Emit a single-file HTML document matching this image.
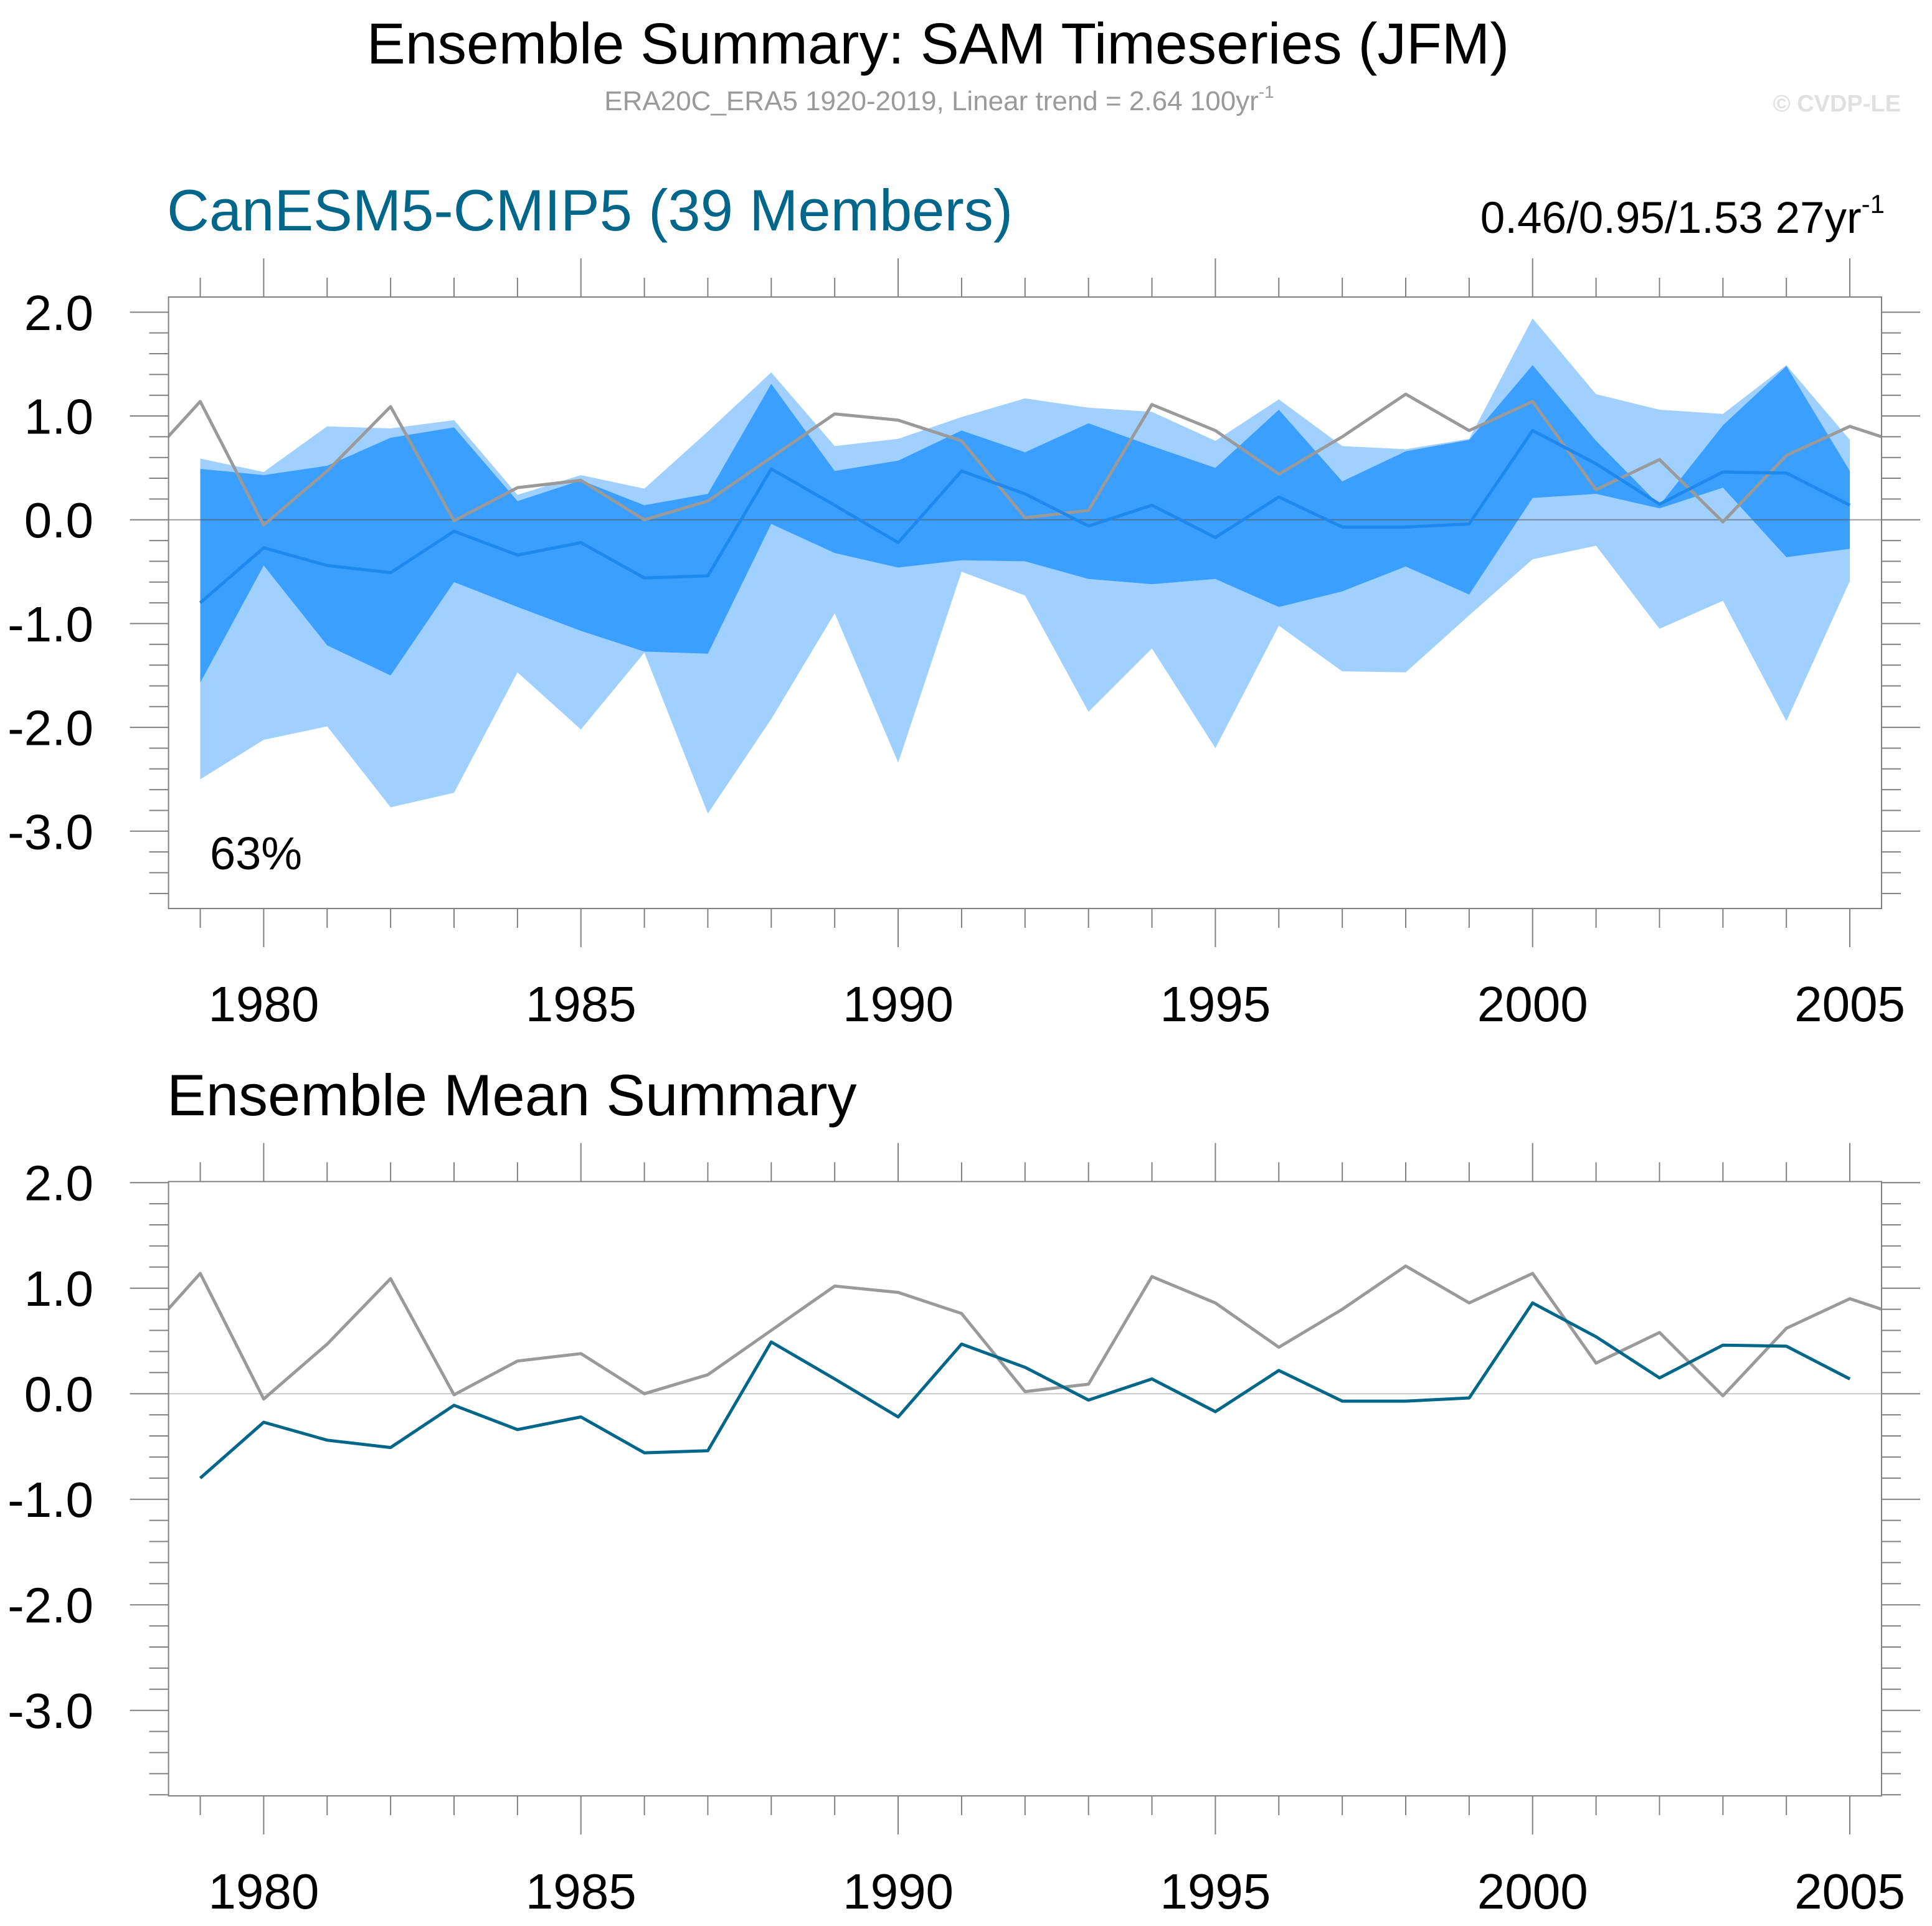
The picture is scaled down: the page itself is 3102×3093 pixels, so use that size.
<!DOCTYPE html>
<html><head><meta charset="utf-8"><title>Ensemble Summary: SAM Timeseries (JFM)</title>
<style>html,body{margin:0;padding:0;background:#fff;}svg{display:block;font-family:"Liberation Sans",Arial,sans-serif;}</style>
</head><body>
<svg id="chart" xmlns="http://www.w3.org/2000/svg" width="3102" height="3093" viewBox="0 0 3102 3093">
<text x="1506" y="102" font-size="93" text-anchor="middle" fill="#000">Ensemble Summary: SAM Timeseries (JFM)</text>
<text x="1508" y="177" font-size="44" text-anchor="middle" fill="#9a9a9a">ERA20C_ERA5 1920-2019, Linear trend = 2.64 100yr<tspan font-size="28" dy="-20">-1</tspan></text>
<text x="3052" y="179" font-size="38" font-weight="bold" text-anchor="end" fill="#e0e0e0">© CVDP-LE</text>
<text x="268" y="370" font-size="94" fill="#00668a">CanESM5-CMIP5 (39 Members)</text>
<text x="3026" y="374" font-size="71" text-anchor="end" fill="#000">0.46/0.95/1.53 27yr<tspan font-size="42" dy="-32">-1</tspan></text>
<text x="268" y="1791" font-size="94" fill="#000">Ensemble Mean Summary</text>
<text x="337" y="1396" font-size="74" fill="#000">63%</text>
<defs>
<clipPath id="clipTop"><rect x="270.6" y="477" width="2750.4" height="982"/></clipPath>
<clipPath id="clipBot"><rect x="270.6" y="1897.5" width="2750.4" height="986.5"/></clipPath>
</defs>
<g id="top"></g>
<g id="bot"></g>
</svg>
<script>
const years = [1979,1980,1981,1982,1983,1984,1985,1986,1987,1988,1989,1990,1991,1992,1993,1994,1995,1996,1997,1998,1999,2000,2001,2002,2003,2004,2005];
const ensMean = [-0.80,-0.27,-0.44,-0.51,-0.11,-0.34,-0.22,-0.56,-0.54,0.49,0.14,-0.22,0.47,0.25,-0.06,0.14,-0.17,0.22,-0.07,-0.07,-0.04,0.86,0.54,0.15,0.46,0.45,0.14];
const lightUpper = [0.59,0.46,0.90,0.88,0.96,0.24,0.43,0.30,0.85,1.42,0.71,0.78,0.99,1.17,1.08,1.04,0.76,1.16,0.71,0.68,0.78,1.94,1.21,1.06,1.02,1.49,0.77];
const lightLower = [-2.50,-2.12,-1.99,-2.77,-2.63,-1.47,-2.02,-1.28,-2.83,-1.92,-0.90,-2.34,-0.50,-0.73,-1.85,-1.24,-2.20,-1.02,-1.46,-1.47,-0.92,-0.38,-0.25,-1.05,-0.78,-1.94,-0.59];
const darkUpper = [0.49,0.43,0.52,0.79,0.89,0.18,0.38,0.14,0.25,1.31,0.47,0.57,0.86,0.65,0.93,0.71,0.50,1.06,0.37,0.66,0.77,1.49,0.76,0.14,0.91,1.48,0.47];
const darkLower = [-1.57,-0.44,-1.21,-1.50,-0.60,-0.84,-1.07,-1.27,-1.29,-0.04,-0.32,-0.46,-0.39,-0.40,-0.57,-0.62,-0.57,-0.84,-0.69,-0.45,-0.72,0.21,0.25,0.11,0.31,-0.36,-0.28];
const obsYears = [1978,1979,1980,1981,1982,1983,1984,1985,1986,1987,1988,1989,1990,1991,1992,1993,1994,1995,1996,1997,1998,1999,2000,2001,2002,2003,2004,2005,2006];
const obs = [0.47,1.14,-0.05,0.47,1.09,-0.01,0.31,0.38,0.00,0.18,0.60,1.02,0.96,0.76,0.02,0.09,1.11,0.86,0.44,0.80,1.21,0.86,1.14,0.29,0.58,-0.02,0.62,0.90,0.70];
const xTickLabels = ['1980','1985','1990','1995','2000','2005'];
const yTickLabels = ['2.0','1.0','0.0','-1.0','-2.0','-3.0'];

const NS='http://www.w3.org/2000/svg';
const X0=270.6, X1=3021, XMIN=1978.5, XMAX=2005.5;
function xs(v){return X0+(v-XMIN)/(XMAX-XMIN)*(X1-X0);}
function mkY(top,bot,vmax,vmin){return v=>top+(vmax-v)/(vmax-vmin)*(bot-top);}
const panels=[
 {g:document.getElementById('top'),top:477,bot:1459,vmax:2.146,vmin:-3.745,clip:'clipTop',name:'top'},
 {g:document.getElementById('bot'),top:1897.5,bot:2884,vmax:2.01,vmin:-3.81,clip:'clipBot',name:'bottom'}
];
function el(tag,attrs,parent){const e=document.createElementNS(NS,tag);for(const k in attrs)e.setAttribute(k,attrs[k]);parent.appendChild(e);return e;}
function pts(xv,yv,ys){return xv.map((x,i)=>xs(x).toFixed(1)+','+ys(yv[i]).toFixed(1)).join(' ');}
function band(up,lo,ys){const a=years.map((x,i)=>xs(x).toFixed(1)+','+ys(up[i]).toFixed(1));const b=years.map((x,i)=>xs(x).toFixed(1)+','+ys(lo[i]).toFixed(1)).reverse();return a.concat(b).join(' ');}

panels.forEach((p,pi)=>{
 const ys=mkY(p.top,p.bot,p.vmax,p.vmin);
 const g=p.g;
 const data=el('g',{'clip-path':'url(#'+p.clip+')'},g);
 
 
 if(pi===0){
  const l=el('polygon',{points:band(lightUpper,lightLower,ys),fill:'#a0d0ff'},data);
  
  
  const d=el('polygon',{points:band(darkUpper,darkLower,ys),fill:'#3a9fff'},data);
  
  
 }
 const z=el('line',{x1:X0,x2:X1,y1:ys(0),y2:ys(0),stroke:pi===0?'rgba(90,90,90,0.6)':'#c8c8c8','stroke-width':2},data);
 
 
 const o=el('polyline',{points:pts(obsYears,obs,ys),fill:'none',stroke:'#9a9a9a','stroke-width':5,'stroke-linejoin':'round'},data);
 
 
 const m=el('polyline',{points:pts(years,ensMean,ys),fill:'none',stroke:pi===0?'#1e88ee':'#00668a','stroke-width':5,'stroke-linejoin':'round'},data);
 
 
 const f=el('rect',{x:X0,y:p.top,width:X1-X0,height:p.bot-p.top,fill:'none',stroke:'#808080','stroke-width':2},g);
 
 
 const ax=el('g',{stroke:'#808080','stroke-width':2},g);
 
 
 for(let yr=1979;yr<=2005;yr++){
  const x=xs(yr);const L=(yr%5===0)?62:31;
  el('line',{x1:x,x2:x,y1:p.top,y2:p.top-L},ax);
  el('line',{x1:x,x2:x,y1:p.bot,y2:p.bot+L},ax);
 }
 for(let k=-19;k<=10;k++){
  const v=k*0.2; if(v>p.vmax+1e-6||v<p.vmin-1e-6)continue;
  const y=ys(v);const major=(k%5===0);const L=major?62:31;
  el('line',{x1:X0,x2:X0-L,y1:y,y2:y},ax);
  el('line',{x1:X1,x2:X1+L,y1:y,y2:y},ax);
 }
 xTickLabels.forEach(t=>{
  const tx=el('text',{x:xs(parseFloat(t)),y:p.bot+181,'font-size':80,'text-anchor':'middle',fill:'#000'},g);
  tx.textContent=t;
  
  
 });
 yTickLabels.forEach(t=>{
  const ty=el('text',{x:150,y:ys(parseFloat(t))+28.5,'font-size':80,'text-anchor':'end',fill:'#000'},g);
  ty.textContent=t;
  
  
 });
});
</script>
</body></html>
